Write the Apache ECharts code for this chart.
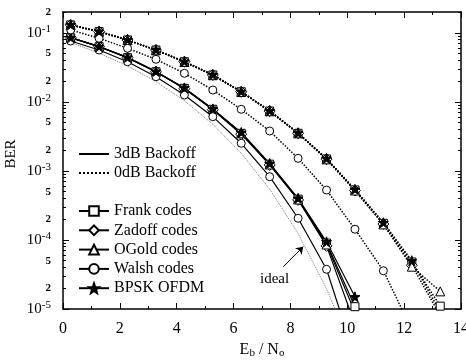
<!DOCTYPE html>
<html>
<head>
<meta charset="utf-8">
<script src="https://cdn.jsdelivr.net/npm/echarts@6/dist/echarts.min.js"></script>
<style>
html, body { margin: 0; padding: 0; background: #fff; }
#ber_chart { width: 466px; height: 360px; }
</style>
</head>
<body>
<div id="ber_chart"></div>
<script type="text/javascript">
// Eb/No sample points (dB)
var ebno = [0.27, 1.27, 2.27, 3.27, 4.27, 5.27, 6.27, 7.27, 8.27, 9.27, 10.27, 11.27, 12.27, 13.27];

// 3dB backoff (solid lines)
var frank3  = [0.0849, 0.0629, 0.0436, 0.0273, 0.0157, 0.0078, 0.0035, 0.00125, 3.9e-4, 9.0e-5, 1.08e-5];
var zadoff3 = [0.0850, 0.0630, 0.0436, 0.0272, 0.0155, 0.0077, 0.0034, 0.00122, 3.8e-4, 8.2e-5, 6e-6];
var ogold3  = [0.0849, 0.0629, 0.0436, 0.0273, 0.0157, 0.0078, 0.0035, 0.00124, 3.85e-4, 8.6e-5, 9e-6];
var walsh3  = [0.0760, 0.0563, 0.0381, 0.0231, 0.01256, 0.0061, 0.00251, 8.24e-4, 2.06e-4, 3.76e-5, 2e-6];
var bpsk3   = [0.0852, 0.0632, 0.0440, 0.0276, 0.0159, 0.0079, 0.0036, 0.00128, 4.0e-4, 9.4e-5, 1.5e-5];

// 0dB backoff (dotted lines)
var frank0  = [0.130, 0.104, 0.0787, 0.0563, 0.0381, 0.0245, 0.0140, 0.00736, 0.0035, 0.00149, 5.3e-4, 1.74e-4, 4.8e-5, 1.1e-5];
var zadoff0 = [0.130, 0.104, 0.0787, 0.0563, 0.0381, 0.0245, 0.0140, 0.00736, 0.0035, 0.00148, 5.2e-4, 1.70e-4, 4.3e-5, 8e-6];
var ogold0  = [0.129, 0.103, 0.0780, 0.0558, 0.0378, 0.0243, 0.0139, 0.00730, 0.0035, 0.00147, 5.2e-4, 1.68e-4, 4.1e-5, 1.8e-5];
var walsh0  = [0.110, 0.0832, 0.0596, 0.0413, 0.0259, 0.01483, 0.0078, 0.00378, 0.00152, 5.28e-4, 1.43e-4, 3.58e-5, 5e-6];
var bpsk0   = [0.131, 0.105, 0.0792, 0.0567, 0.0384, 0.0247, 0.0141, 0.00742, 0.00355, 0.00151, 5.4e-4, 1.78e-4, 5.0e-5, 9e-6];

// ideal BPSK (thin grey dotted)
var ideal = [0.0723, 0.0508, 0.0331, 0.0197, 0.0104, 0.00474, 0.0018, 5.45e-4, 1.24e-4, 1.97e-5, 2e-6];

// axis ticks / labels
var xLabels = [0, 2, 4, 6, 8, 10, 12, 14];
var yMajor = [1e-5, 1e-4, 1e-3, 1e-2, 1e-1];
var yLabelled = [1e-5, 2e-5, 5e-5, 1e-4, 2e-4, 5e-4, 1e-3, 2e-3, 5e-3, 1e-2, 2e-2, 5e-2, 1e-1, 2e-1];
var yMinor = [2e-5, 3e-5, 4e-5, 5e-5, 6e-5, 7e-5, 8e-5, 9e-5,
              2e-4, 3e-4, 4e-4, 5e-4, 6e-4, 7e-4, 8e-4, 9e-4,
              2e-3, 3e-3, 4e-3, 5e-3, 6e-3, 7e-3, 8e-3, 9e-3,
              2e-2, 3e-2, 4e-2, 5e-2, 6e-2, 7e-2, 8e-2, 9e-2, 2e-1];
var yMin = 1e-5, yMax = 0.2;

var FONT = '"Liberation Serif", "Times New Roman", serif';
var STAR = 'path://M0,-10 L2.35,-3.24 L9.51,-3.09 L3.8,1.24 L5.88,8.09 L0,4 L-5.88,8.09 L-3.8,1.24 L-9.51,-3.09 L-2.35,-3.24 Z';

function pairs(ys) {
    var out = [];
    for (var i = 0; i < ys.length; i++) out.push([ebno[i], ys[i]]);
    return out;
}
function lg(arr) {
    return arr.map(function (v) { return Math.log10(v); });
}

var codes = [
    { name: 'Frank codes',  symbol: 'rect',     size: 8,  fill: '#fff', d3: frank3,  d0: frank0 },
    { name: 'Zadoff codes', symbol: 'diamond',  size: 11, fill: '#fff', d3: zadoff3, d0: zadoff0 },
    { name: 'OGold codes',  symbol: 'triangle', size: 9,  fill: '#fff', d3: ogold3,  d0: ogold0 },
    { name: 'Walsh codes',  symbol: 'circle',   size: 8,  fill: '#fff', d3: walsh3,  d0: walsh0 },
    { name: 'BPSK OFDM',    symbol: STAR,       size: 10, fill: '#000', d3: bpsk3,   d0: bpsk0 }
];

var series = [{
    name: 'ideal',
    type: 'line',
    data: pairs(ideal),
    symbol: 'none',
    lineStyle: { color: '#777', width: 1, type: 'dotted' },
    markLine: {
        silent: true,
        symbol: ['none', 'arrow'],
        symbolSize: 7,
        label: { show: false },
        lineStyle: { color: '#000', width: 1, type: 'solid' },
        data: [[{ coord: [7.75, 4.1e-5] }, { coord: [8.45, 8e-5] }]]
    }
}, {
    name: '3dB Backoff', type: 'line', data: [], symbol: 'none',
    itemStyle: { color: 'rgba(0,0,0,0)', borderColor: 'rgba(0,0,0,0)' },
    lineStyle: { color: '#000', width: 1.5, type: 'solid' }
}, {
    name: '0dB Backoff', type: 'line', data: [], symbol: 'none',
    itemStyle: { color: 'rgba(0,0,0,0)', borderColor: 'rgba(0,0,0,0)' },
    lineStyle: { color: '#000', width: 1.5, type: 'dotted' }
}];

codes.forEach(function (c) {
    series.push({
        name: c.name, type: 'line', data: pairs(c.d3),
        symbol: c.symbol, symbolSize: c.size,
        itemStyle: { color: c.fill, borderColor: '#000', borderWidth: 1 },
        lineStyle: { color: '#000', width: 1.2, type: 'solid' }
    });
});
codes.forEach(function (c) {
    series.push({
        name: c.name, type: 'line', data: pairs(c.d0),
        symbol: c.symbol, symbolSize: c.size,
        itemStyle: { color: c.fill, borderColor: '#000', borderWidth: 1 },
        lineStyle: { color: '#000', width: 1.5, type: 'dotted' }
    });
});

function yFmt(v) {
    var e = Math.round(v);
    if (Math.abs(v - e) < 1e-6) return '10{sup|' + e + '}';
    return '{small|' + Math.round(Math.pow(10, v - Math.floor(v))) + '}';
}

var lineBlack = { color: '#000', width: 1.5 };
function yTickAxis(pos, values, len, showLine, labels) {
    return {
        type: 'value', position: pos, min: Math.log10(yMin), max: Math.log10(yMax),
        axisLine: { show: showLine, lineStyle: lineBlack },
        axisTick: { show: true, inside: true, length: len, customValues: lg(values), lineStyle: { color: '#000', width: 1 } },
        axisLabel: labels ? {
            show: true, customValues: lg(yLabelled), formatter: yFmt, margin: 12,
            fontFamily: FONT, fontSize: 15, color: '#000',
            rich: {
                sup: { fontFamily: FONT, fontSize: 11, color: '#000', padding: [0, 0, 8, 0] },
                small: { fontFamily: FONT, fontSize: 11, fontWeight: 'bold', color: '#000' }
            }
        } : { show: false },
        splitLine: { show: false }
    };
}

function xAxisDef(pos, labels) {
    return {
        type: 'value', position: pos, min: 0, max: 14, interval: 2,
        axisLine: { show: true, lineStyle: lineBlack },
        axisTick: { show: true, inside: true, length: 6, lineStyle: { color: '#000', width: 1 } },
        minorTick: { show: true, splitNumber: 2, length: 3, lineStyle: { color: '#000', width: 1 } },
        axisLabel: labels ? {
            show: true, margin: 12, fontFamily: FONT, fontSize: 16, color: '#000',
            customValues: xLabels
        } : { show: false },
        splitLine: { show: false }
    };
}
var xBottom = xAxisDef('bottom', true);
xBottom.name = 'E{sub|b} / N{sub|o}';
xBottom.nameLocation = 'middle';
xBottom.nameGap = 30;
xBottom.nameTextStyle = {
    fontFamily: FONT, fontSize: 16, color: '#000',
    rich: { sub: { fontFamily: FONT, fontSize: 11, color: '#000', padding: [7, 0, 0, 0] } }
};

var legendText = { fontFamily: FONT, fontSize: 16, color: '#000' };

var myChart = echarts.init(document.getElementById('ber_chart'), null, { renderer: 'canvas' });
var option = {
    animation: false,
    backgroundColor: '#fff',
    grid: { left: 63, right: 5, top: 12, bottom: 51, containLabel: false, outerBoundsMode: 'none' },
    legend: [{
        data: ['3dB Backoff', '0dB Backoff'],
        orient: 'vertical', left: 78, top: 146, padding: 0,
        itemWidth: 30, itemHeight: 12, itemGap: 3,
        textStyle: legendText, selectedMode: false
    }, {
        data: codes.map(function (c) { return c.name; }),
        orient: 'vertical', left: 78, top: 203, padding: 0,
        itemWidth: 30, itemHeight: 12, itemGap: 3.3,
        textStyle: legendText, selectedMode: false
    }],
    xAxis: [xBottom, xAxisDef('top', false)],
    yAxis: [
        { type: 'log', logBase: 10, min: yMin, max: yMax, position: 'left',
          axisLine: { show: false }, axisTick: { show: false }, axisLabel: { show: false }, splitLine: { show: false } },
        yTickAxis('left', yMajor, 6, true, true),
        yTickAxis('left', yMinor, 3, false, false),
        yTickAxis('right', yMajor, 6, true, false),
        yTickAxis('right', yMinor, 3, false, false)
    ],
    graphic: [{
        type: 'text', x: 11, y: 154, rotation: Math.PI / 2,
        style: { text: 'BER', font: '15px "Liberation Serif"', fill: '#000', align: 'center', verticalAlign: 'middle' }
    }, {
        type: 'text', left: 260, top: 272,
        style: { text: 'ideal', font: '15px "Liberation Serif"', fill: '#000' }
    }],
    series: series
};
myChart.setOption(option);
</script>
</body>
</html>
